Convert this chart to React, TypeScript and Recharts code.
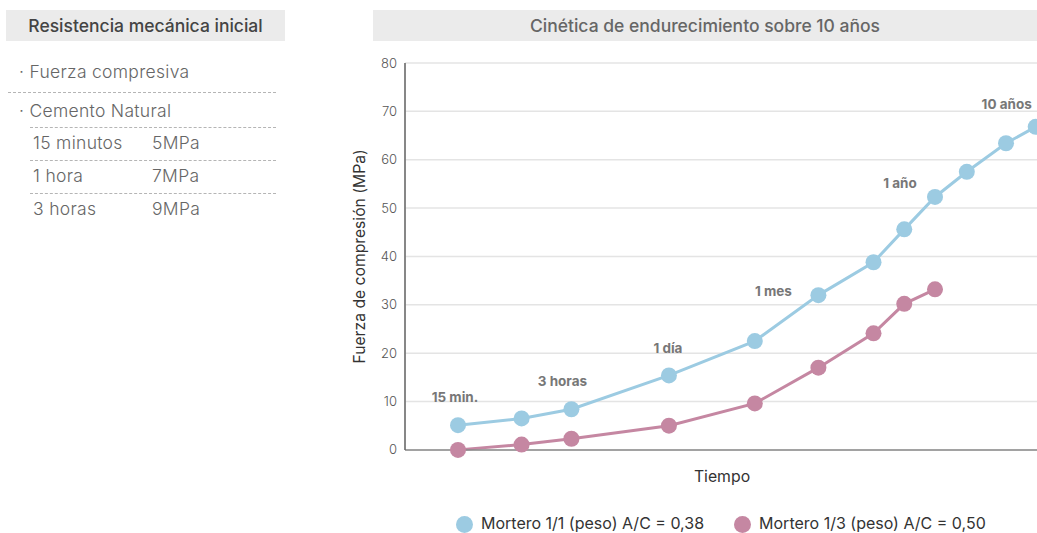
import React from 'react';
import {
  LineChart,
  Line,
  XAxis,
  YAxis,
  CartesianGrid,
  Legend,
  LabelList,
  Label,
} from 'recharts';

// position on the time axis (one gridline per step, roughly log scale)
const timePos = [0.5, 1.1, 1.57, 2.49, 3.3, 3.9, 4.42, 4.71, 5.0, 5.3, 5.67, 5.95];
const timeLabels = ['15 min.', '', '3 horas', '1 día', '', '1 mes', '', '', '1 año', '', '', '10 años'];
const mortero11 = [5.1, 6.5, 8.4, 15.4, 22.5, 32.0, 38.8, 45.6, 52.3, 57.5, 63.4, 66.8];
const mortero13 = [0, 1.1, 2.3, 5.0, 9.6, 17.0, 24.1, 30.2, 33.2];

const yTicks = [0, 10, 20, 30, 40, 50, 60, 70, 80];
const xTicks = [0, 1, 2, 3, 4, 5, 6];

const tableRows = [
  { label: '15 minutos', value: '5MPa' },
  { label: '1 hora', value: '7MPa' },
  { label: '3 horas', value: '9MPa' },
];

const BLUE = '#9ccbe2';
const PINK = '#c587a2';
const FONT = 'Inter, "Liberation Sans", Arial, sans-serif';

const data = timePos.map((t, i) => ({
  t,
  tag: timeLabels[i],
  m11: mortero11[i],
  m13: mortero13[i],
}));

// where each annotation sits relative to its point
const labelOffset: Record<number, [number, number]> = {
  0: [-3, -28],
  2: [-9, -28],
  3: [-1, -27],
  5: [-45, -4],
  8: [-35, -14],
  11: [-29, -23],
};

const TagLabel = (props: any) => {
  const { x, y, value, index } = props;
  if (!value) return null;
  const [dx, dy] = labelOffset[index] || [0, -26];
  return (
    <text
      x={x + dx}
      y={y + dy}
      textAnchor="middle"
      dominantBaseline="central"
      fontSize={13.5}
      fontWeight={700}
      fill="#777"
      fontFamily={FONT}
    >
      {value}
    </text>
  );
};

const dashed = { borderBottom: '1px dashed #b5b5b5', position: 'absolute' as const };
const bodyText = {
  position: 'absolute' as const,
  fontSize: 17.5,
  fontWeight: 300,
  letterSpacing: 0.3,
  color: '#666',
  lineHeight: '22px',
};
const headerBox = {
  position: 'absolute' as const,
  top: 10,
  height: 31,
  background: '#ebebeb',
  fontSize: 17.5,
  fontWeight: 500,
  lineHeight: '31px',
  textAlign: 'center' as const,
};

export default function App() {
  return (
    <div
      style={{
        position: 'absolute',
        left: 0,
        top: 0,
        width: 1037,
        height: 533,
        overflow: 'hidden',
        fontFamily: FONT,
        background: '#fff',
      }}
    >
      {/* left panel */}
      <div style={{ ...headerBox, left: 6, width: 279, color: '#444' }}>Resistencia mecánica inicial</div>
      <div style={{ ...bodyText, left: 19, top: 61 }}>· Fuerza compresiva</div>
      <div style={{ ...dashed, left: 8, top: 92, width: 268 }} />
      <div style={{ ...bodyText, left: 19, top: 100 }}>· Cemento Natural</div>
      <div style={{ ...dashed, left: 30, top: 127, width: 246 }} />
      {tableRows.map((r, i) => (
        <React.Fragment key={r.label}>
          <div style={{ ...bodyText, left: 33, top: 132 + i * 33 }}>{r.label}</div>
          <div style={{ ...bodyText, left: 152, top: 132 + i * 33 }}>{r.value}</div>
          {i < tableRows.length - 1 && <div style={{ ...dashed, left: 30, top: 160 + i * 33, width: 246 }} />}
        </React.Fragment>
      ))}

      {/* right panel header */}
      <div style={{ ...headerBox, left: 373, width: 664, color: '#666' }}>
        Cinética de endurecimiento sobre 10 años
      </div>

      <div style={{ position: 'absolute', left: 340, top: 40 }}>
        <LineChart width={701} height={493} data={data} margin={{ top: 23, right: 0, left: 5, bottom: 0 }}>
          <CartesianGrid stroke="#e4e4e4" strokeWidth={1.5} />
          <XAxis
            type="number"
            dataKey="t"
            domain={[0, 6]}
            ticks={xTicks}
            tick={false}
            tickLine={false}
            axisLine={{ stroke: '#8a8a8a', strokeWidth: 1.5 }}
            height={63}
          >
            <Label
              content={(p: any) => (
                <text
                  x={p.viewBox.x + 317}
                  y={p.viewBox.y + 27}
                  textAnchor="middle"
                  dominantBaseline="central"
                  fontSize={15.8}
                  fill="#333"
                  fontFamily={FONT}
                >
                  Tiempo
                </text>
              )}
            />
          </XAxis>
          <YAxis
            domain={[0, 80]}
            ticks={yTicks}
            tickLine={false}
            axisLine={{ stroke: '#666', strokeWidth: 1.5 }}
            tick={{ fill: '#555', fontSize: 13, fontFamily: FONT, fontWeight: 300 }}
            width={60}
          >
            <Label
              content={(p: any) => {
                const cx = p.viewBox.x + 14;
                const cy = p.viewBox.y + p.viewBox.height / 2;
                return (
                  <text
                    x={cx}
                    y={cy}
                    transform={`rotate(-90, ${cx}, ${cy})`}
                    textAnchor="middle"
                    dominantBaseline="central"
                    fontSize={15.7}
                    fill="#333"
                    fontFamily={FONT}
                  >
                    Fuerza de compresión (MPa)
                  </text>
                );
              }}
            />
          </YAxis>
          <Legend
            verticalAlign="bottom"
            iconType="circle"
            iconSize={17}
            wrapperStyle={{ left: 116, width: 'auto' }}
            formatter={(value) => (
              <span style={{ color: '#333', fontSize: 16, paddingLeft: 4, paddingRight: 20 }}>{value}</span>
            )}
          />
          <Line
            name="Mortero 1/1 (peso) A/C = 0,38"
            dataKey="m11"
            stroke={BLUE}
            strokeWidth={3}
            dot={{ r: 8, fill: BLUE, stroke: 'none' }}
            activeDot={false}
            isAnimationActive={false}
          >
            <LabelList dataKey="tag" content={TagLabel} />
          </Line>
          <Line
            name="Mortero 1/3 (peso) A/C = 0,50"
            dataKey="m13"
            stroke={PINK}
            strokeWidth={3}
            dot={{ r: 8, fill: PINK, stroke: 'none' }}
            activeDot={false}
            isAnimationActive={false}
          />
        </LineChart>
      </div>
    </div>
  );
}
